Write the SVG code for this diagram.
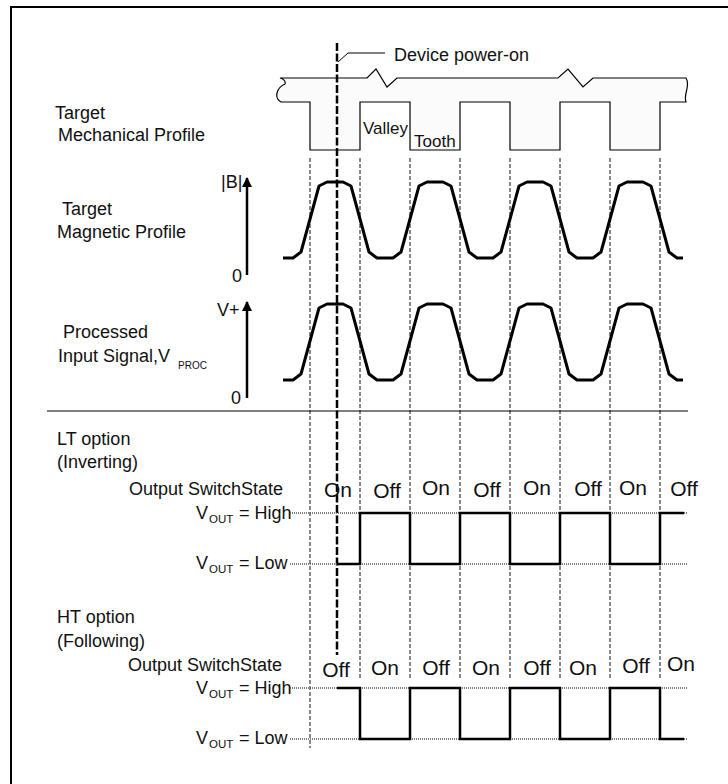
<svg xmlns="http://www.w3.org/2000/svg" width="728" height="784" viewBox="0 0 728 784">
<defs>
<style>
text{font-family:"Liberation Sans",Arial,sans-serif;fill:#111;}
.lbl{font-size:18px;}
.st{font-size:21px;text-anchor:middle;}
.sub{font-size:11.5px;}
.grid{stroke:#111;stroke-width:1;stroke-dasharray:4 2;fill:none;}
.ref{stroke:#555;stroke-width:1.5;stroke-dasharray:1 1;fill:none;}
.wave{stroke:#000;stroke-width:3;fill:none;stroke-linejoin:round;}
.sq{stroke:#000;stroke-width:2.5;fill:none;stroke-linejoin:miter;}
.thin{stroke:#000;stroke-width:1;fill:none;}
</style>
<marker id="ah" viewBox="0 0 10 10" refX="9" refY="5" markerWidth="4" markerHeight="4" orient="auto">
<path d="M0,0 L10,5 L0,10 Z" fill="#000"/>
</marker>
<path id="wf" d="M283,258 L293,258 L301,252 L319,186 L327,182 L343,182 L351,186 L369,252 L377,258 L393,258 L401,252 L419,186 L427,182 L443,182 L451,186 L469,252 L477,258 L493,258 L501,252 L519,186 L527,182 L543,182 L551,186 L569,252 L577,258 L593,258 L601,252 L619,186 L627,182 L643,182 L651,186 L669,252 L677,258 L683,258"/>
</defs>
<rect x="11" y="7" width="760" height="820" fill="#fff" stroke="#000" stroke-width="2"/>

<g id="mechanical-profile">
<path d="M280,78 L367,78 L376,69 L387,87 L397,78 L558,78 L568,69 L583,87 L593,78 L686,78 C691,86 683,94 686,102 L660,102 L660,150 L610,150 L610,102 L560,102 L560,150 L510,150 L510,102 L460,102 L460,150 L410,150 L410,102 L360,102 L360,150 L310,150 L310,102 L281,102 C274,98 276,88 285,84 C286,81 283,79 280,78 Z" fill="#fbfbfb" stroke="#000" stroke-width="1.2"/>
<text class="lbl" x="55" y="119">Target</text>
<text class="lbl" x="58" y="141">Mechanical Profile</text>
<text x="363" y="134" style="font-size:17px">Valley</text>
<text x="414" y="147" style="font-size:17px">Tooth</text>
</g>

<g id="connectors">
<path class="grid" d="M310,158 V748 M360,158 V680 M410,158 V680 M460,158 V680 M510,158 V680 M560,158 V680 M610,158 V680 M660,158 V680"/>
<line x1="337" y1="43" x2="337" y2="655" stroke="#000" stroke-width="2.5" stroke-dasharray="8 2.5"/>
<path class="thin" d="M338,62 L348,53 L385,53"/>
<line x1="47" y1="411" x2="688" y2="411" stroke="#000" stroke-width="1.2"/>
</g>

<g id="power-on">
<text class="lbl" x="394" y="61">Device power-on</text>
</g>

<g id="magnetic-profile">
<text class="lbl" x="62" y="215">Target</text>
<text class="lbl" x="57" y="238">Magnetic Profile</text>
<line x1="247" y1="275" x2="247" y2="178" stroke="#000" stroke-width="2.5" marker-end="url(#ah)"/>
<text class="lbl" x="221" y="188">|B|</text>
<text class="lbl" x="232" y="282">0</text>
<use href="#wf" class="wave"/>
</g>

<g id="processed-signal">
<text class="lbl" x="63" y="338">Processed</text>
<text class="lbl" x="58" y="362">Input Signal,V</text>
<text x="178" y="369" style="font-size:10px">PROC</text>
<line x1="247" y1="398" x2="247" y2="302" stroke="#000" stroke-width="2.5" marker-end="url(#ah)"/>
<text class="lbl" x="217" y="316">V+</text>
<text class="lbl" x="231" y="404">0</text>
<use href="#wf" class="wave" transform="translate(0,122)"/>
</g>

<g id="lt-option">
<text class="lbl" x="57" y="445">LT option</text>
<text class="lbl" x="57" y="468">(Inverting)</text>
<text class="lbl" x="129" y="495">Output SwitchState</text>
<text class="lbl" x="196" y="519">V<tspan class="sub" x="209" y="523">OUT</tspan><tspan x="239" y="519">= High</tspan></text>
<text class="lbl" x="196" y="569">V<tspan class="sub" x="209" y="573">OUT</tspan><tspan x="239" y="569">= Low</tspan></text>
<path class="ref" d="M290,513 H688 M290,564 H688"/>
<path class="sq" d="M337,564 L360,564 L360,513 L410,513 L410,564 L460,564 L460,513 L510,513 L510,564 L560,564 L560,513 L610,513 L610,564 L660,564 L660,513 L684,513"/>
<text class="st" x="338" y="497">On</text>
<text class="st" x="387" y="498">Off</text>
<text class="st" x="436" y="495">On</text>
<text class="st" x="487" y="497">Off</text>
<text class="st" x="537" y="495">On</text>
<text class="st" x="588" y="496">Off</text>
<text class="st" x="633" y="495">On</text>
<text class="st" x="684" y="496">Off</text>
</g>

<g id="ht-option">
<text class="lbl" x="57" y="623">HT option</text>
<text class="lbl" x="57" y="647">(Following)</text>
<text class="lbl" x="128" y="671">Output SwitchState</text>
<text class="lbl" x="196" y="694">V<tspan class="sub" x="209" y="698">OUT</tspan><tspan x="239" y="694">= High</tspan></text>
<text class="lbl" x="196" y="744">V<tspan class="sub" x="209" y="748">OUT</tspan><tspan x="239" y="744">= Low</tspan></text>
<path class="ref" d="M290,688 H688 M290,739 H688"/>
<path class="sq" d="M337,688 L360,688 L360,739 L410,739 L410,688 L460,688 L460,739 L510,739 L510,688 L560,688 L560,739 L610,739 L610,688 L660,688 L660,739 L684,739"/>
<text class="st" x="336" y="677">Off</text>
<text class="st" x="385" y="675">On</text>
<text class="st" x="436" y="675">Off</text>
<text class="st" x="486" y="675">On</text>
<text class="st" x="537" y="675">Off</text>
<text class="st" x="583" y="675">On</text>
<text class="st" x="636" y="673">Off</text>
<text class="st" x="681" y="671">On</text>
</g>
</svg>
